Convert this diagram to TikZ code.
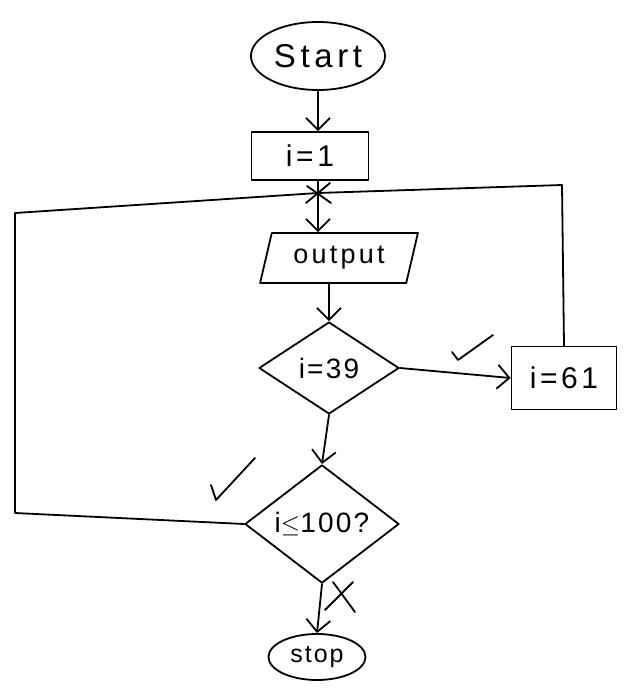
\documentclass[tikz,border=0pt]{standalone}
\usepackage{fontspec}
\setmainfont{Liberation Sans}
\usetikzlibrary{shapes.geometric,arrows.meta,calc}
\begin{document}
\begin{tikzpicture}[x=1pt,y=-1pt, line width=1.8pt, line cap=round, line join=round,
  flow/.style={-{Straight Barb[length=12pt,width=24pt,line width=1.8pt]}},
  lbl/.style={font=\fontsize{30}{32}\selectfont\addfontfeature{LetterSpace=12}, inner sep=0pt},
  box/.style={draw, rectangle, lbl},
  dia/.style={draw, diamond, lbl},
  tick/.style={line width=1.8pt}]
\fill[white] (0,0) rectangle (632,696);
\useasboundingbox (0,0) rectangle (632,696);
\node[draw, ellipse, minimum width=134, minimum height=68, lbl, font=\fontsize{33}{35}\selectfont\addfontfeature{LetterSpace=14}] (start) at (318,56) {Start};
\node[box, minimum width=117, minimum height=48] (i1) at (310,156) {i=1};
\coordinate (J) at (318,193);
\coordinate (R) at (562,185);
\coordinate (L1) at (15,213);
\coordinate (L2) at (15,513);
\node[draw, trapezium, trapezium left angle=71, trapezium right angle=109, trapezium stretches=true, minimum width=158, minimum height=50, lbl, font=\fontsize{27}{29}\selectfont\addfontfeature{LetterSpace=12}] (output) at (339,258) {output};
\node[dia, minimum width=140, minimum height=92, font=\fontsize{28}{30}\selectfont\addfontfeature{LetterSpace=8}] (d39) at (329,368) {i=39};
\node[box, minimum width=105, minimum height=63] (i61) at (564,378) {i=61};
\node[dia, minimum width=154, minimum height=112, font=\fontsize{28}{30}\selectfont\addfontfeature{LetterSpace=8}] (d100) at (322,524) {i$\leq$100?};
\node[draw, ellipse, minimum width=97, minimum height=46, lbl, font=\fontsize{25}{27}\selectfont\addfontfeature{LetterSpace=8}] (stop) at (317,657) {stop};
% connectors
\draw[flow] (start.south) -- (start.south |- i1.north);
\draw (J |- i1.south) -- (J);
\draw[flow] (J) -- (J |- output.north);
\draw[flow] (output.south -| d39.north) -- (d39.north);
\draw[flow] (d39.south) -- (d100.north);
\draw[flow] (d39.east) -- (i61.west);
\draw (i61.north) -- (R) -- (J);
\draw (d100.west) -- (L2) -- (L1) -- (J);
\draw[flow] (d100.south) -- (stop.north);
% marks
\draw[tick] (306,203) -- (330,183);
\draw[tick] (307,186) -- (331,203);
\draw[tick] (452,352) -- (458,360) -- (493,335);
\draw[tick] (211,485) -- (216,500) -- (255,458);
\draw[tick] (333,582) -- (355,612);
\draw[tick] (353,582) -- (325,610);
\end{tikzpicture}
\end{document}
